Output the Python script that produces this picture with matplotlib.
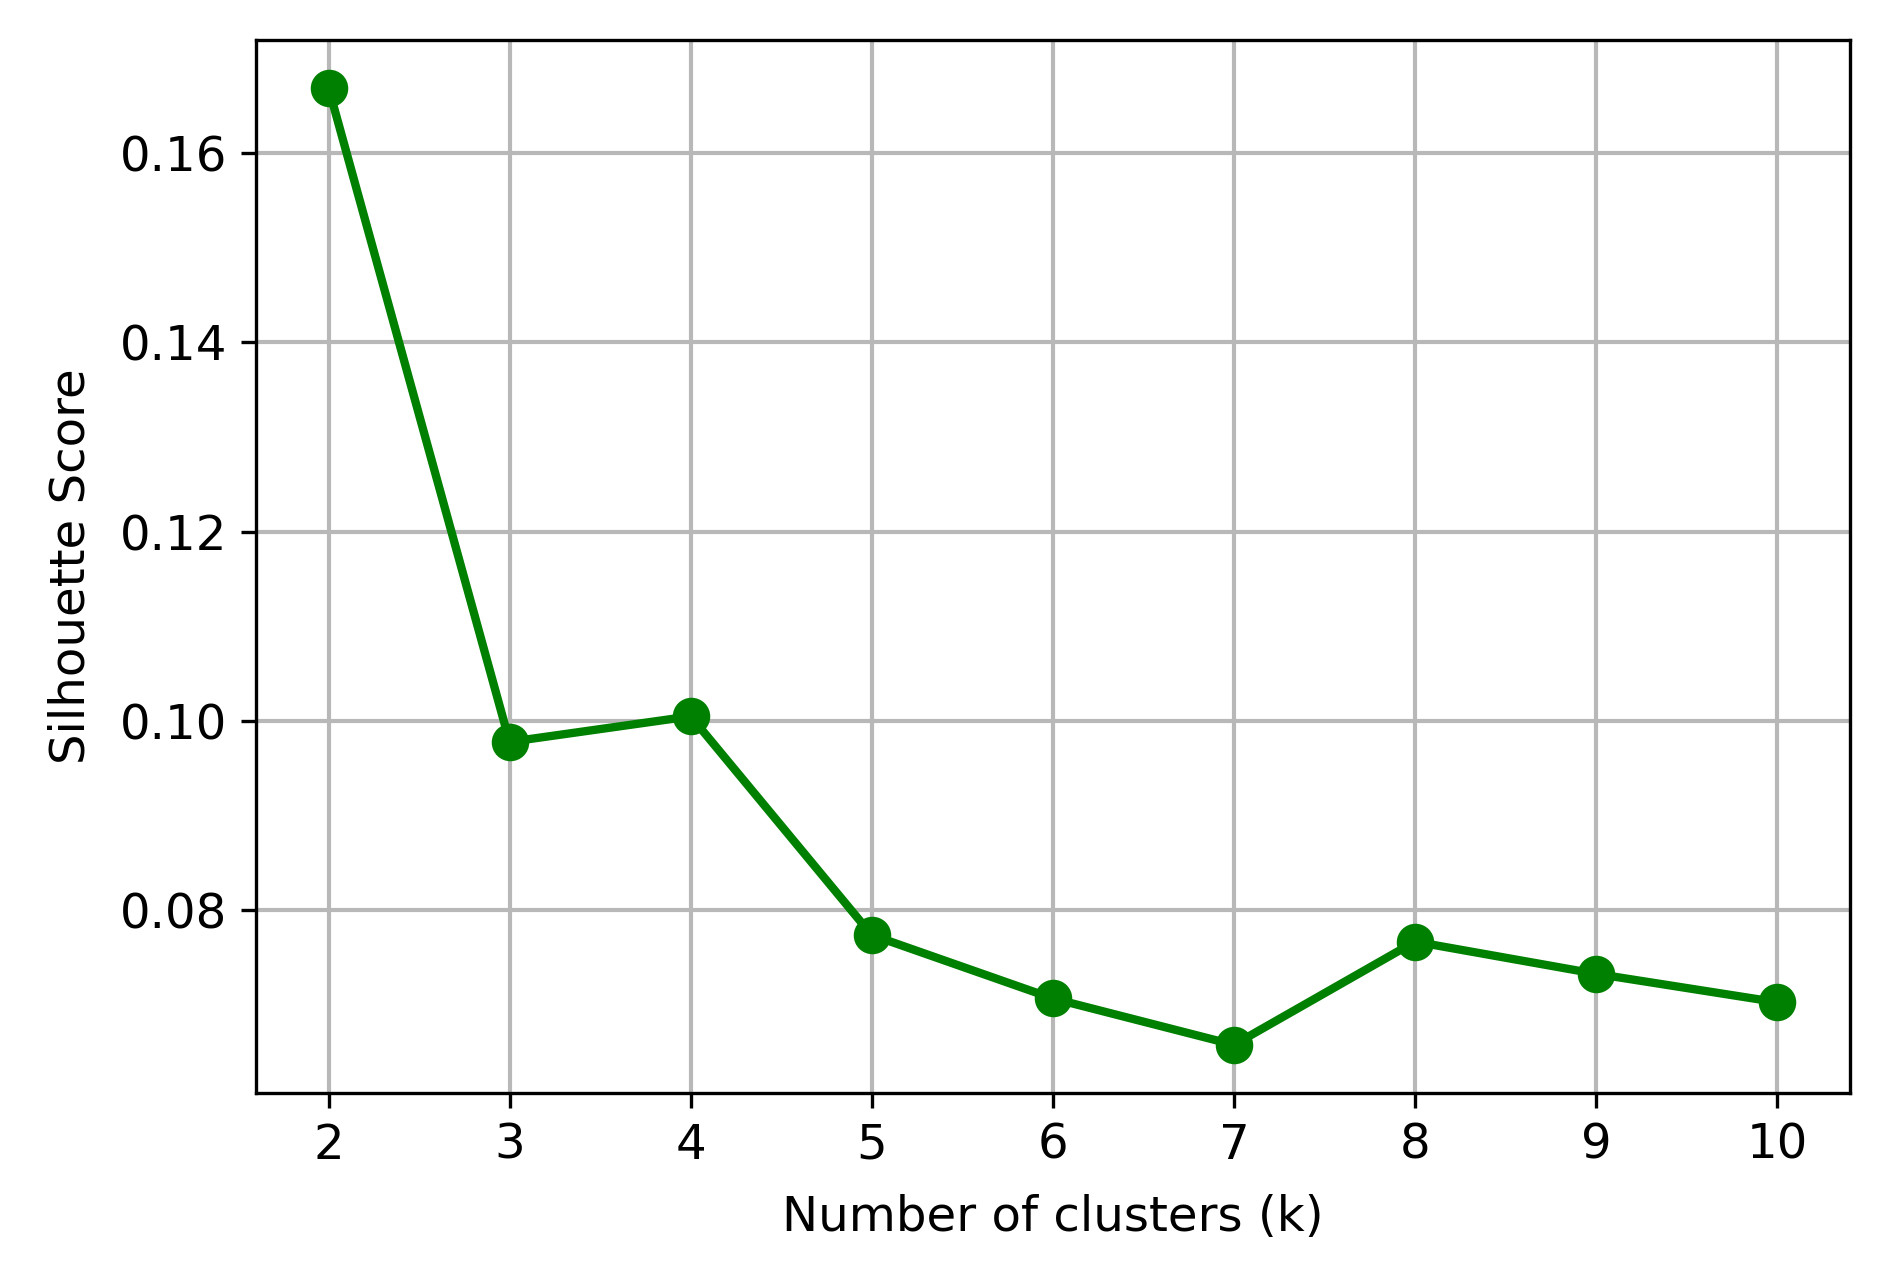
import matplotlib
matplotlib.use("Agg")
from matplotlib import pyplot as plt

# Silhouette score per number of clusters
k_values = [2, 3, 4, 5, 6, 7, 8, 9, 10]
silhouette_scores = [0.1669, 0.0978, 0.1005, 0.0774, 0.0707, 0.0658, 0.0767, 0.0733, 0.0703]

plt.rcParams['font.family'] = ['DejaVu Sans']
plt.rcParams['font.size'] = 11.6

fig = plt.figure(figsize=(1897 / 300, 1284 / 300), dpi=300)
ax = fig.add_axes([0.135, 0.149, 0.84, 0.82])

ax.plot(k_values, silhouette_scores, marker='o', color='green', linewidth=2, markersize=8)

ax.set_xlabel("Number of clusters (k)", labelpad=6)
ax.set_ylabel("Silhouette Score", labelpad=6)
ax.set_xticks(k_values)
ax.set_yticks([0.08, 0.10, 0.12, 0.14, 0.16])
ax.grid(True, color='#b8b8b8', linewidth=1.0)

fig.savefig("out.png", dpi=300)
plt.close()
